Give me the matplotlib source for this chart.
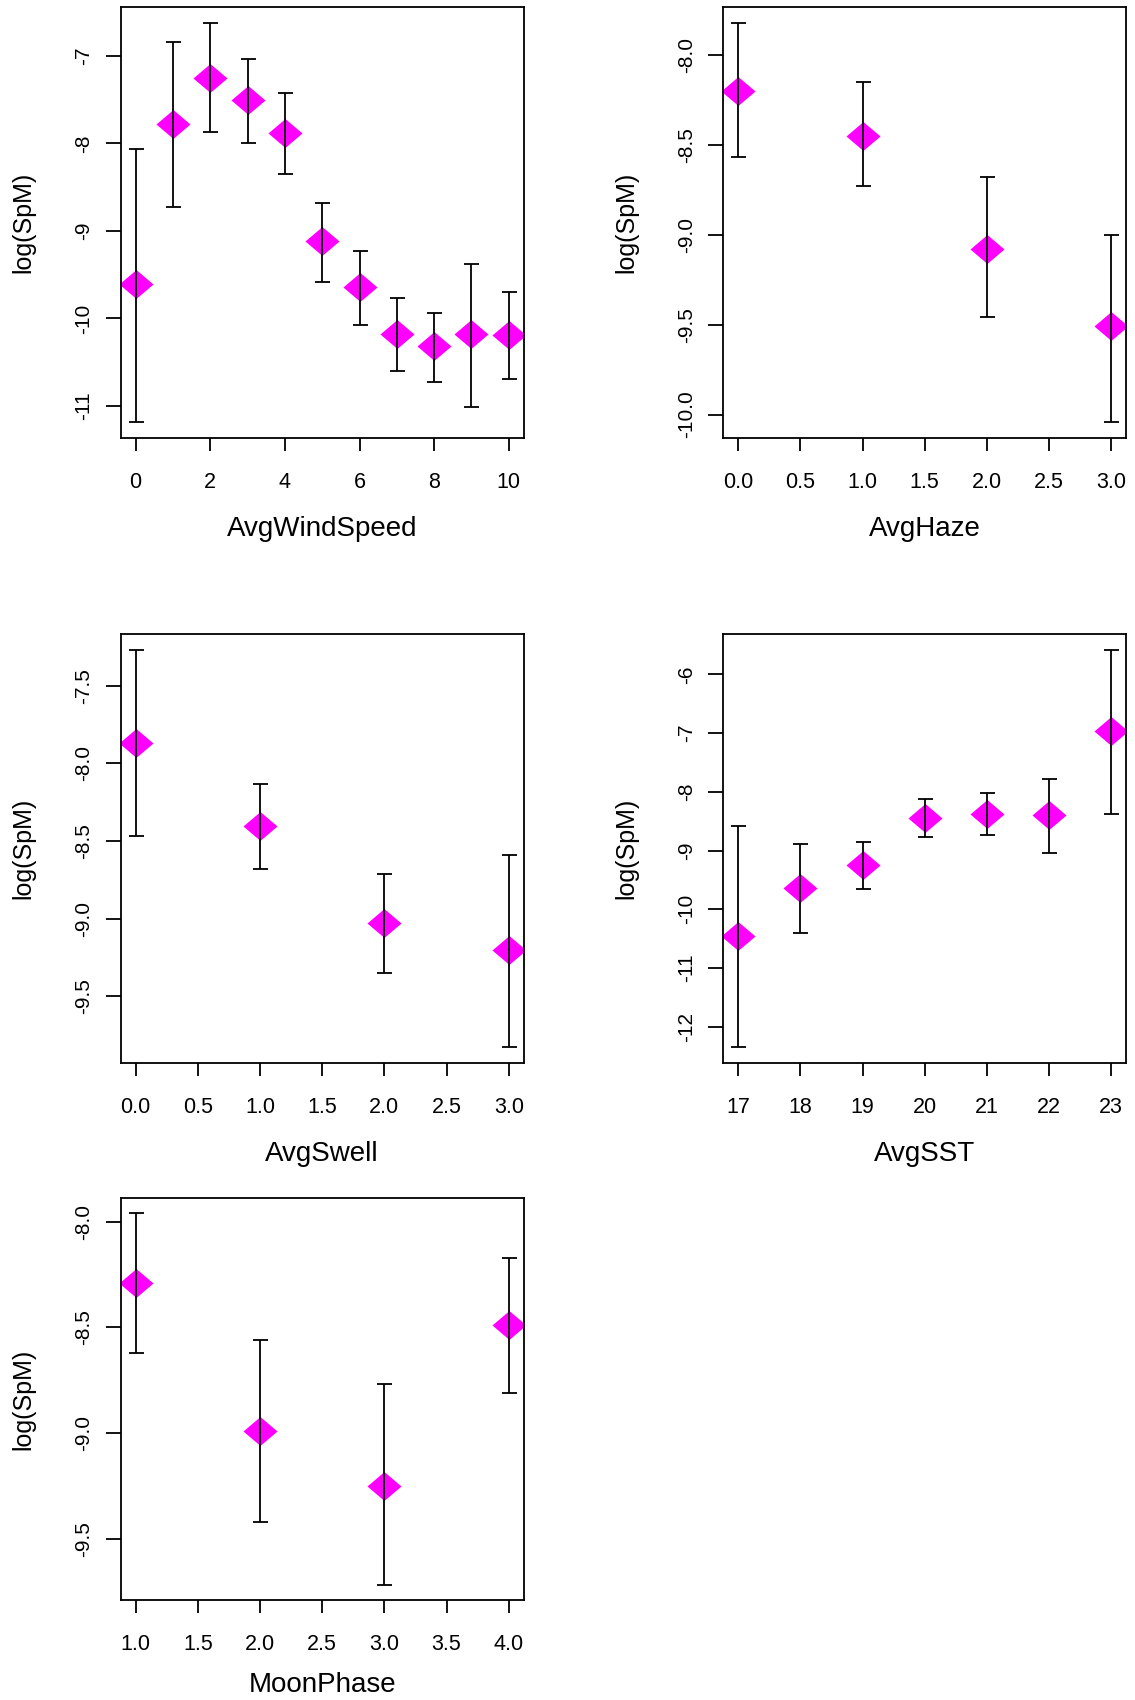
import matplotlib
matplotlib.use("Agg")
import matplotlib.pyplot as plt
import numpy as np

plt.rcParams['font.family'] = ['Liberation Sans', 'DejaVu Sans']

# AvgWindSpeed
wind_x = [0, 1, 2, 3, 4, 5, 6, 7, 8, 9, 10]
wind_mean = [-9.61, -7.78, -7.25, -7.50, -7.88, -9.12, -9.64, -10.18, -10.32, -10.18, -10.19]
wind_hi = [-8.06, -6.84, -6.62, -7.04, -7.42, -8.68, -9.23, -9.77, -9.94, -9.38, -9.70]
wind_lo = [-11.18, -8.73, -7.87, -8.00, -8.35, -9.58, -10.08, -10.60, -10.73, -11.01, -10.69]
wind_xticks = [0, 2, 4, 6, 8, 10]
wind_yticks = [-7, -8, -9, -10, -11]

# AvgHaze
haze_x = [0, 1, 2, 3]
haze_mean = [-8.20, -8.45, -9.08, -9.51]
haze_hi = [-7.82, -8.15, -8.68, -9.00]
haze_lo = [-8.57, -8.73, -9.46, -10.04]
haze_xticks = [0.0, 0.5, 1.0, 1.5, 2.0, 2.5, 3.0]
haze_yticks = [-8.0, -8.5, -9.0, -9.5, -10.0]

# AvgSwell
swell_x = [0, 1, 2, 3]
swell_mean = [-7.87, -8.40, -9.03, -9.20]
swell_hi = [-7.27, -8.13, -8.71, -8.59]
swell_lo = [-8.47, -8.68, -9.35, -9.83]
swell_xticks = [0.0, 0.5, 1.0, 1.5, 2.0, 2.5, 3.0]
swell_yticks = [-7.5, -8.0, -8.5, -9.0, -9.5]

# AvgSST
sst_x = [17, 18, 19, 20, 21, 22, 23]
sst_mean = [-10.46, -9.63, -9.25, -8.45, -8.37, -8.40, -6.97]
sst_hi = [-8.59, -8.88, -8.86, -8.13, -8.02, -7.78, -5.59]
sst_lo = [-12.35, -10.41, -9.66, -8.77, -8.73, -9.04, -8.38]
sst_xticks = [17, 18, 19, 20, 21, 22, 23]
sst_yticks = [-6, -7, -8, -9, -10, -11, -12]

# MoonPhase
moon_x = [1, 2, 3, 4]
moon_mean = [-8.29, -8.99, -9.25, -8.49]
moon_hi = [-7.96, -8.56, -8.77, -8.17]
moon_lo = [-8.62, -9.42, -9.72, -8.81]
moon_xticks = [1.0, 1.5, 2.0, 2.5, 3.0, 3.5, 4.0]
moon_yticks = [-8.0, -8.5, -9.0, -9.5]

W, H = 1135, 1700
fig = plt.figure(figsize=(W / 100, H / 100), dpi=100)

diamond = [(-1, 0), (0, 0.85), (1, 0), (0, -0.85), (-1, 0)]


def panel(left, top, right, bottom, x, mean, hi, lo, xticks, yticks, xlabel, fmt,
          xlab_off=91):
    # box given in pixels from top-left
    wpx, hpx = right - left, bottom - top
    ax = fig.add_axes([left / W, 1 - bottom / H, wpx / W, hpx / H])
    mean = np.array(mean)
    yerr = [mean - np.array(lo), np.array(hi) - mean]
    ax.plot(x, mean, marker=diamond, ls='none', color='#ff00ff', ms=24.5,
            mec='none', zorder=2)
    ax.errorbar(x, mean, yerr=yerr, fmt='none', ecolor='black',
                elinewidth=1.3, capsize=5.4, capthick=1.3, zorder=3)
    ax.margins(0.04)
    ax.set_xticks(xticks)
    ax.set_xticklabels([fmt % t for t in xticks])
    ax.set_yticks(yticks)
    ax.set_yticklabels([fmt % t for t in yticks], rotation=90, va='center')
    ax.tick_params(axis='x', length=9.4, width=1.3, labelsize=15.5, pad=15)
    ax.tick_params(axis='y', length=11, width=1.3, labelsize=15, pad=8.5)
    for s in ax.spines.values():
        s.set_linewidth(1.3)
    ax.set_xlabel(xlabel, fontsize=20, va='center')
    ax.xaxis.set_label_coords(0.5, -xlab_off / hpx)
    ax.set_ylabel("log(SpM)", fontsize=18, va='center')
    ax.yaxis.set_label_coords(-97 / wpx, 0.5)
    return ax


panel(120.7, 6.7, 523.7, 437.7, wind_x, wind_mean, wind_hi, wind_lo,
      wind_xticks, wind_yticks, "AvgWindSpeed", "%g")
panel(723.3, 6.7, 1126, 437.7, haze_x, haze_mean, haze_hi, haze_lo,
      haze_xticks, haze_yticks, "AvgHaze", "%.1f")
panel(120.7, 634.3, 523.7, 1063.3, swell_x, swell_mean, swell_hi, swell_lo,
      swell_xticks, swell_yticks, "AvgSwell", "%.1f")
panel(723.3, 634.3, 1126, 1063.3, sst_x, sst_mean, sst_hi, sst_lo,
      sst_xticks, sst_yticks, "AvgSST", "%g")
panel(120.7, 1198.3, 523.7, 1600, moon_x, moon_mean, moon_hi, moon_lo,
      moon_xticks, moon_yticks, "MoonPhase", "%.1f", xlab_off=85)

fig.savefig("out.png", dpi=100)
